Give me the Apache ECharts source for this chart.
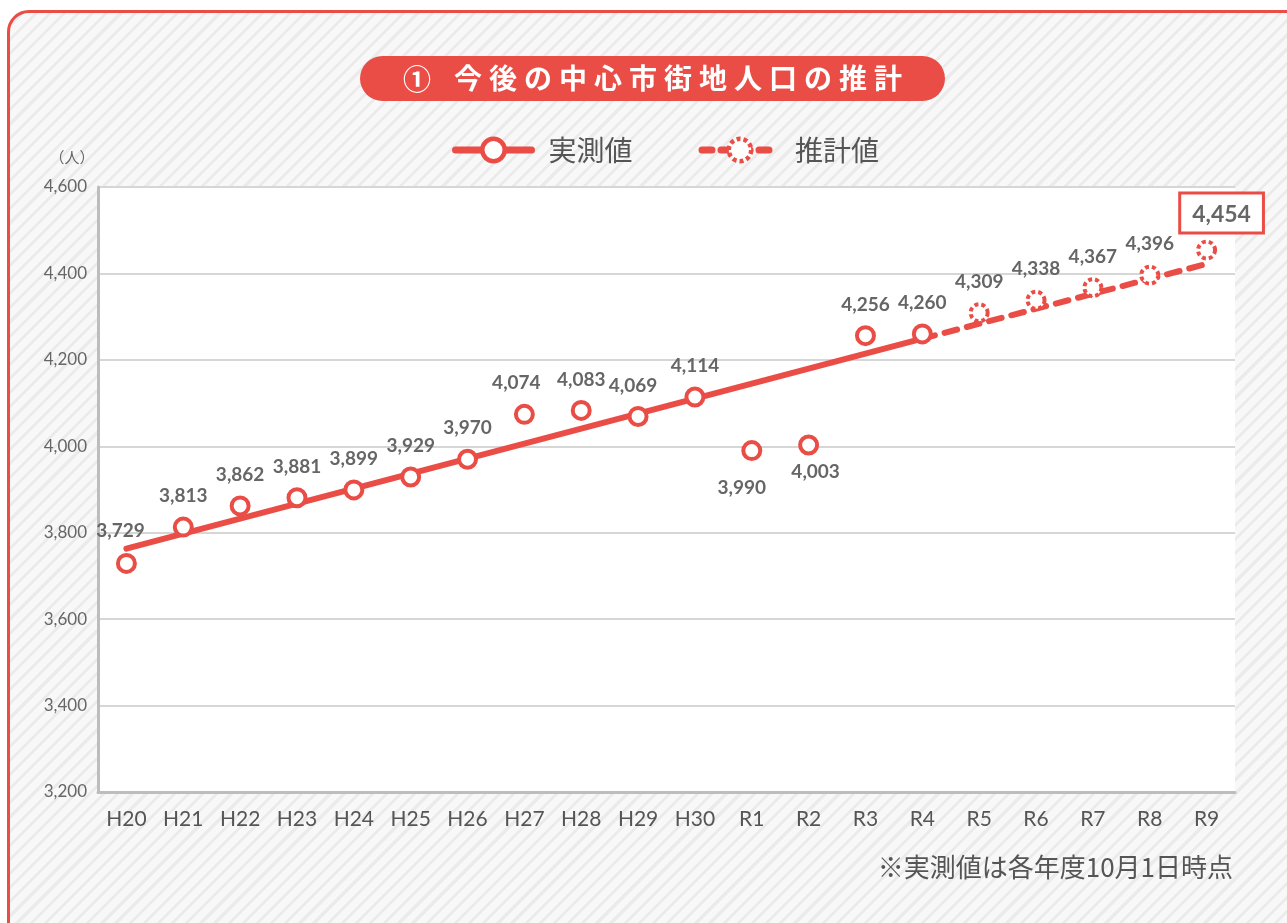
<!DOCTYPE html>
<html>
<head>
<meta charset="utf-8">
<script src="https://cdn.jsdelivr.net/npm/echarts@6/dist/echarts.min.js"></script>
<style>
html,body{margin:0;padding:0;width:1287px;height:923px;overflow:hidden;background:#fff;}
#frame{position:absolute;left:7px;top:10px;width:1320px;height:960px;box-sizing:border-box;
  border:3px solid #EA4D46;border-radius:22px;
  background:repeating-linear-gradient(135deg,#f8f8f8 0px,#f8f8f8 7px,#ebebeb 7px,#ebebeb 10px);}
#chart{position:absolute;left:0;top:0;width:1287px;height:923px;}
</style>
</head>
<body>
<div id="frame"></div>
<div id="chart"></div>
<script>
// ---- data ----
const categories = ['H20','H21','H22','H23','H24','H25','H26','H27','H28','H29','H30','R1','R2','R3','R4','R5','R6','R7','R8','R9'];
const actualValues = [3729,3813,3862,3881,3899,3929,3970,4074,4083,4069,4114,3990,4003,4256,4260]; // H20..R4
const estimateValues = [4309,4338,4367,4396,4454]; // R5..R9
const trendActualEnds = [3763, 4249];   // trend line at H20 and R4
const trendEstimateEnds = [4249, 4422]; // trend line at R4 and R9
const yMin = 3200, yMax = 4600, yInterval = 200;
const titleText = '今後の中心市街地人口の推計';
const titleNumber = '①';
const unitText = '（人）';
const noteText = '※実測値は各年度10月1日時点';

// ---- styles ----
const RED = '#EA4D46';
const LABEL_GRAY = '#666666';
const FONT = "Lato, 'Noto Sans CJK JP', sans-serif";
const JFONT = "'Noto Sans CJK JP', sans-serif";
const fmt = v => String(v).replace(/\B(?=(\d{3})+(?!\d))/g, ',');

const labelOverrides = {
  H20: {offset: [-6, -2]},
  H27: {offset: [-8, 0]},
  H29: {offset: [-5, 0]},
  R1: {position: 'bottom', distance: 17, offset: [-10, 0]},
  R2: {position: 'bottom', distance: 7, offset: [7, 0]},
  R9: {position: 'top', distance: 8, offset: [15, 0], fontSize: 23,
       borderColor: RED, borderWidth: 3, padding: [8, 11, 6, 11], backgroundColor: '#fff'}
};

const nActual = actualValues.length;
const actualData = categories.map((c, i) => i < nActual
  ? (labelOverrides[c] ? {value: actualValues[i], label: labelOverrides[c]} : actualValues[i]) : '-');
const estimateData = categories.map((c, i) => i >= nActual
  ? (labelOverrides[c] ? {value: estimateValues[i - nActual], label: labelOverrides[c]} : estimateValues[i - nActual]) : '-');
const trendActualData = categories.map((c, i) => i === 0 ? trendActualEnds[0] : (i === nActual - 1 ? trendActualEnds[1] : null));
const trendEstimateData = categories.map((c, i) => i === nActual - 1 ? trendEstimateEnds[0] : (i === categories.length - 1 ? trendEstimateEnds[1] : null));

const baseLabel = {show: true, position: 'top', distance: 11, fontSize: 19, fontWeight: 'bold',
  color: LABEL_GRAY, fontFamily: FONT, formatter: p => fmt(p.value)};

const chart = echarts.init(document.getElementById('chart'), null, {renderer: 'canvas'});

// title
const titleFont = "bold 28px 'Noto Sans CJK JP'";
const titleGraphics = [
  {type: 'rect', shape: {x: 360, y: 56, width: 585, height: 45, r: 22.5}, style: {fill: RED}},
  {type: 'text', x: 417, y: 79, style: {text: titleNumber, fill: '#fff', font: titleFont, textAlign: 'center', textVerticalAlign: 'middle'}}
];
Array.from(titleText).forEach((ch, i) => {
  titleGraphics.push({type: 'text', x: 468 + i * 35, y: 78,
    style: {text: ch, fill: '#fff', font: titleFont, textAlign: 'center', textVerticalAlign: 'middle'}});
});

chart.setOption({
  animation: false,
  backgroundColor: 'transparent',
  grid: {left: 98, right: 52, top: 187, bottom: 131, show: true, backgroundColor: '#fff', borderWidth: 0},
  legend: {
    left: 447, top: 131, itemWidth: 76, itemHeight: 28, itemGap: 66,
    textStyle: {fontSize: 28, color: '#555', fontFamily: JFONT, padding: [0, 0, 0, 12]},
    selectedMode: false,
    data: [
      {name: '実測値', lineStyle: {color: RED, width: 7, type: 'solid'},
       itemStyle: {color: '#fff', borderColor: RED, borderWidth: 4.5}},
      {name: '推計値', lineStyle: {color: RED, width: 7, type: [10, 9]},
       itemStyle: {color: '#fff', borderColor: RED, borderWidth: 4.5, borderType: [4, 3]}}
    ]
  },
  xAxis: {
    type: 'category', data: categories, boundaryGap: true,
    axisLine: {lineStyle: {color: '#bdbdbd', width: 3}},
    axisTick: {show: false},
    axisLabel: {fontSize: 21, color: '#555', margin: 17, fontFamily: FONT}
  },
  yAxis: {
    type: 'value', min: yMin, max: yMax, interval: yInterval,
    axisLine: {show: true, lineStyle: {color: '#bdbdbd', width: 3}},
    axisTick: {show: false},
    splitLine: {lineStyle: {color: '#d6d6d6', width: 2}},
    axisLabel: {fontSize: 17, color: '#666', margin: 11, fontFamily: FONT, formatter: v => fmt(v)}
  },
  graphic: titleGraphics.concat([
    {type: 'text', x: 72, y: 157, style: {text: unitText, fill: '#666', font: "15px 'Noto Sans CJK JP'", textAlign: 'center', textVerticalAlign: 'middle'}},
    {type: 'text', x: 1233, y: 867, style: {text: noteText, fill: '#555', font: "26px 'Noto Sans CJK JP'", textAlign: 'right', textVerticalAlign: 'middle'}}
  ]),
  series: [
    {
      name: '実測値', type: 'line', data: trendActualData, connectNulls: true,
      symbol: 'circle', symbolSize: 17, showSymbol: false, silent: true,
      lineStyle: {color: RED, width: 6, cap: 'round'},
      itemStyle: {color: '#fff', borderColor: RED, borderWidth: 4},
      z: 2
    },
    {
      name: '推計値', type: 'line', data: trendEstimateData, connectNulls: true,
      symbol: 'circle', symbolSize: 17, showSymbol: false, silent: true,
      lineStyle: {color: RED, width: 6, type: [13, 10], cap: 'round'},
      itemStyle: {color: '#fff', borderColor: RED, borderWidth: 4, borderType: [4, 3]},
      z: 2
    },
    {
      name: 'actualPoints', type: 'scatter', data: actualData, symbol: 'circle', symbolSize: 17,
      itemStyle: {color: '#fff', borderColor: RED, borderWidth: 4, opacity: 1},
      label: baseLabel, silent: true, z: 3
    },
    {
      name: 'estimatePoints', type: 'scatter', data: estimateData, symbol: 'circle', symbolSize: 17,
      itemStyle: {color: '#fff', borderColor: RED, borderWidth: 4, borderType: [4, 3], opacity: 1},
      label: baseLabel, silent: true, z: 3
    }
  ]
});
</script>
</body>
</html>
